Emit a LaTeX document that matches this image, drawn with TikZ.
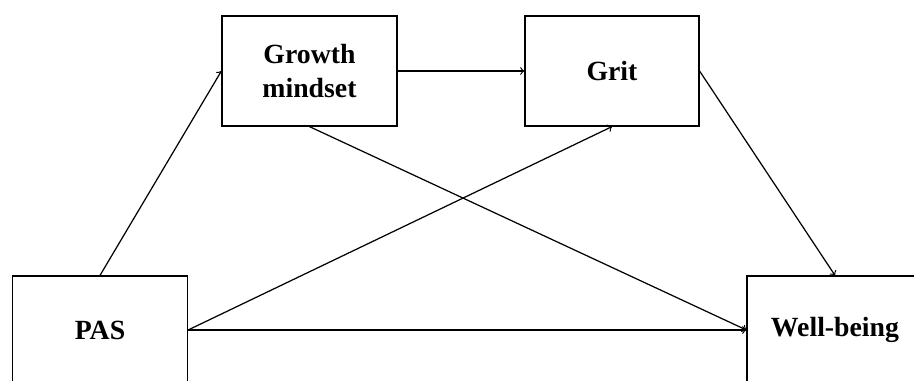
\documentclass[tikz,border=0pt]{standalone}
\usepackage{fontspec}
\setmainfont{Liberation Serif}
\tikzset{box/.style={draw, line width=0.7pt, minimum width=3.5cm, minimum height=2.2cm,
    align=center, font=\fontsize{15.8}{19}\selectfont\bfseries},
 path/.style={draw, line width=0.7pt, ->},
 }

\begin{document}
\begin{tikzpicture}[x=0.02cm, y=-0.02cm]
        \useasboundingbox (0, 0) rectangle (914, 380);
        \clip (0, 0) rectangle (914, 380);
        % boxes
        \node[box, minimum height=2.16cm] (pas) at (100, 330) {PAS};
        \node[box] (mindset) at (309.5, 71) {Growth\\mindset};
        \node[box, minimum width=3.48cm] (grit) at (612, 71) {Grit};
        \node[box, minimum height=2.16cm, minimum width=3.52cm] (wellbeing) at (835, 330) {Well-being};
        % paths
        \draw[path] (pas.north) -- (mindset.west);
        \draw[path] (mindset.east) -- (grit.west);
        \draw[path] (pas.east) -- (grit.south);
        \draw[path] (mindset.south) -- (wellbeing.west);
        \draw[path] (pas.east) -- (wellbeing.west);
        \draw[path] (grit.east) -- (wellbeing.north);
    \end{tikzpicture}
\end{document}
